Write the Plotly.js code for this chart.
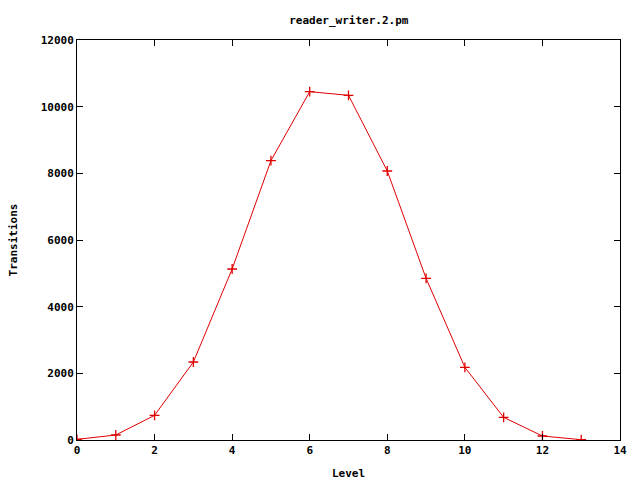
<!DOCTYPE html>
<html>
<head>
<meta charset="utf-8">
<script src="https://cdn.plot.ly/plotly-3.0.1.min.js"></script>
<style>html,body{margin:0;padding:0;background:#fff;}#chart{width:640px;height:480px;}</style>
</head>
<body>
<div id="chart"></div>
<script>
const levels = [0, 1, 2, 3, 4, 5, 6, 7, 8, 9, 10, 11, 12, 13];
const transitions = [20, 150, 740, 2340, 5130, 8380, 10450, 10340, 8070, 4850, 2180, 680, 120, 10];
const xTicks = [0, 2, 4, 6, 8, 10, 12, 14];
const yTicks = [0, 2000, 4000, 6000, 8000, 10000, 12000];

const font = {family: 'DejaVu Sans Mono, monospace', size: 11, color: '#000'};

const trace = {
  x: levels, y: transitions, type: 'scatter', mode: 'lines+markers',
  line: {color: '#e00000', width: 1},
  marker: {symbol: 'cross-thin', size: 7, line: {color: '#e00000', width: 1.3}},
  hoverinfo: 'none', showlegend: false
};

const axisCommon = {
  showgrid: false, zeroline: false, showline: true, mirror: 'ticks',
  linecolor: '#000', linewidth: 1, ticks: 'inside', ticklen: 6, tickcolor: '#000',
  tickfont: {family: font.family, size: 11, color: '#000', weight: 'bold'}
};

const layout = {
  width: 640, height: 480,
  margin: {l: 77, r: 20, t: 40, b: 40},
  paper_bgcolor: '#fff', plot_bgcolor: '#fff',
  title: {text: 'reader_writer.2.pm', font: {family: font.family, size: 11, color: '#000', weight: 'bold'}, x: 0.545, xanchor: 'center', y: 0.958, yanchor: 'middle'},
  xaxis: Object.assign({}, axisCommon, {
    range: [0, 14], tickvals: xTicks, ticktext: xTicks.map(String),
    title: {text: 'Level', font: {family: font.family, size: 11, color: '#000', weight: 'bold'}, standoff: 13}
  }),
  yaxis: Object.assign({}, axisCommon, {
    range: [0, 12000], tickvals: yTicks, ticktext: yTicks.map(String),
    title: {text: 'Transitions', font: {family: font.family, size: 11, color: '#000', weight: 'bold'}, standoff: 20}
  })
};

Plotly.newPlot('chart', [trace], layout, {displayModeBar: false, staticPlot: true});
</script>
</body>
</html>
